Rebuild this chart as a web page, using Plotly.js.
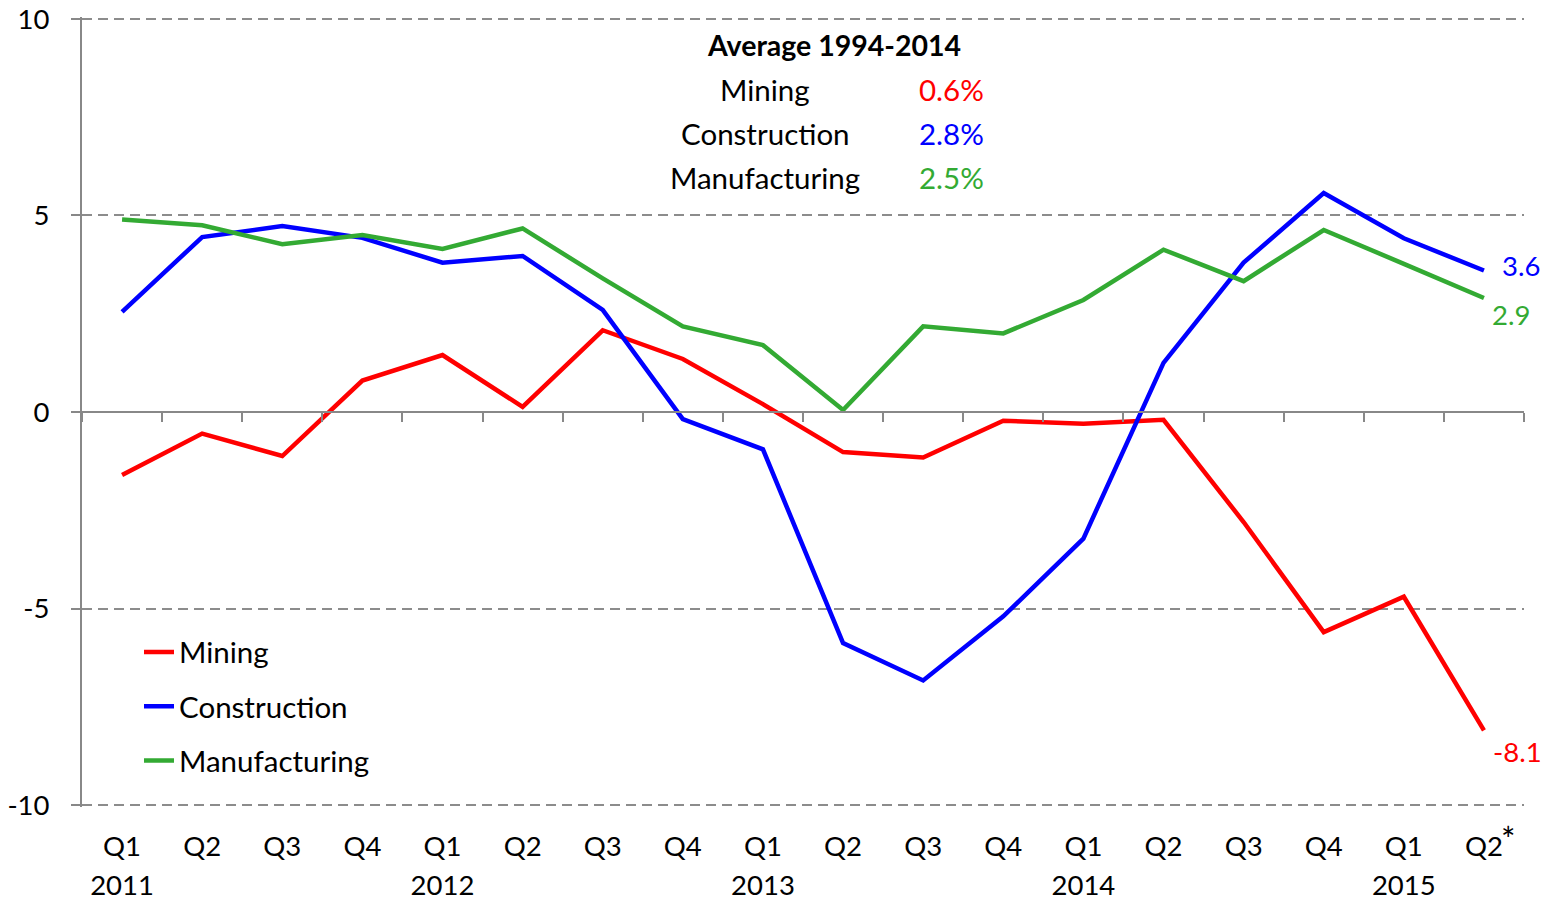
<!DOCTYPE html>
<html>
<head>
<meta charset="utf-8">
<script src="https://cdn.plot.ly/plotly-3.0.1.min.js"></script>
<style>html,body{margin:0;padding:0;background:#fff}#chart{width:1550px;height:902px}</style>
</head>
<body>
<div id="chart"></div>
<script>
const quarters = ["2011 Q1","2011 Q2","2011 Q3","2011 Q4","2012 Q1","2012 Q2","2012 Q3","2012 Q4",
  "2013 Q1","2013 Q2","2013 Q3","2013 Q4","2014 Q1","2014 Q2","2014 Q3","2014 Q4","2015 Q1","2015 Q2"];
const quarterLabels = ["Q1","Q2","Q3","Q4","Q1","Q2","Q3","Q4","Q1","Q2","Q3","Q4","Q1","Q2","Q3","Q4","Q1","Q2"];
const yearLabels = ["2011","2012","2013","2014","2015"];
const mining = [-1.6,-0.55,-1.12,0.8,1.45,0.13,2.08,1.35,0.2,-1.02,-1.16,-0.22,-0.3,-0.2,-2.8,-5.6,-4.7,-8.1];
const construction = [2.55,4.45,4.73,4.43,3.8,3.97,2.6,-0.18,-0.95,-5.88,-6.83,-5.2,-3.22,1.25,3.8,5.57,4.42,3.6];
const manufacturing = [4.9,4.75,4.27,4.5,4.15,4.67,3.4,2.18,1.7,0.05,2.18,2.0,2.85,4.13,3.33,4.63,3.77,2.9];
const seriesNames = ["Mining","Construction","Manufacturing"];
const avgLabels = ["0.6%","2.8%","2.5%"];
const colors = ["#FF0000","#0000FF","#33AA33"];
const seriesData = [mining, construction, manufacturing];
const yearTicks = quarters.filter(q=>q.endsWith("Q1"));
const FONT = "Lato, 'Open Sans', sans-serif";

const traces = seriesData.map((ys,i)=>({
  x: quarters, y: ys, type:'scatter', mode:'lines', name: seriesNames[i],
  line:{color:colors[i], width:4.5, shape:'linear'},
  legend: i===0 ? 'legend' : 'legend'+(i+1),
  hoverinfo:'skip'
}));
// carrier traces for the helper axes (zero line with boundary ticks, year labels)
['x2','x3'].forEach(ax=>traces.push({x: quarters, y: quarters.map(()=>0), xaxis:ax, type:'scatter', mode:'lines',
  line:{width:0}, opacity:0, showlegend:false, hoverinfo:'skip'}));

const annotations = [];
const PX = v => (v-82)/1442, PY = v => (805-v)/786;
annotations.push({xref:'paper', yref:'paper', x:PX(834), y:PY(47), text:'<b>Average 1994-2014</b>',
  showarrow:false, font:{family:FONT, size:28.5, color:'#000'}, xanchor:'center', yanchor:'middle'});
const rowY = [91,135,179];
seriesNames.forEach((n,i)=>{
  annotations.push({xref:'paper', yref:'paper', x:PX(765), y:PY(rowY[i]), text:n, showarrow:false,
    font:{family:FONT, size:29.5, color:'#000'}, xanchor:'center', yanchor:'middle'});
  annotations.push({xref:'paper', yref:'paper', x:PX(986), y:PY(rowY[i]), text:avgLabels[i], showarrow:false,
    font:{family:FONT, size:29.5, color:colors[i]}, xanchor:'right', yanchor:'middle'});
});
// end labels
const last = quarters.length-1;
const endOffsets = [[34,-21],[37,5],[27,-16]];
seriesData.forEach((ys,i)=>{
  annotations.push({x:quarters[last], y:ys[last], xref:'x', yref:'y', text:ys[last].toFixed(1),
    showarrow:false, xshift:endOffsets[i][0], yshift:endOffsets[i][1],
    font:{family:FONT, size:27.5, color:colors[i]}, xanchor:'center', yanchor:'middle'});
});
// asterisk on the last (preliminary) quarter
annotations.push({x:quarters[last], xref:'x', yref:'paper', y:PY(836), text:'*', showarrow:false, xshift:24,
  font:{family:FONT, size:34, color:'#000'}, xanchor:'center', yanchor:'middle'});

const legendBase = {xref:'paper', yref:'paper', x:PX(139), xanchor:'left', yanchor:'middle', bgcolor:'rgba(0,0,0,0)',
  font:{family:FONT, size:29.5, color:'#000'}, itemwidth:30};
const axisGray = '#888';
const layout = {
  width:1550, height:902,
  margin:{l:82, r:26, t:17, b:95},
  paper_bgcolor:'#fff', plot_bgcolor:'#fff',
  font:{family:FONT, color:'#000'},
  xaxis:{type:'category', tickmode:'array', tickvals:quarters, ticktext:quarterLabels, range:[-0.5,17.5],
    showgrid:false, zeroline:false, showline:false, ticks:'', ticklabelstandoff:20,
    tickfont:{family:FONT, size:27.5, color:'#000'}},
  xaxis2:{type:'category', overlaying:'x', matches:'x', anchor:'free', position:0.5, side:'bottom',
    showline:true, linecolor:axisGray, linewidth:2, ticks:'outside', ticklen:9, tickwidth:2, tickcolor:axisGray,
    tickson:'boundaries', showticklabels:false, showgrid:false, zeroline:false},
  xaxis3:{type:'category', overlaying:'x', matches:'x', anchor:'free', position:0, side:'bottom',
    tickmode:'array', tickvals:yearTicks, ticktext:yearLabels, showline:false, ticks:'', showgrid:false,
    zeroline:false, ticklabelstandoff:59, tickfont:{family:FONT, size:27.5, color:'#000'}},
  yaxis:{range:[-10.05,10.05], tickvals:[-10,-5,0,5,10], ticktext:['-10','-5','0','5','10'],
    showgrid:true, gridcolor:'#8c8c8c', gridwidth:2, griddash:'10px,6px',
    zeroline:true, zerolinecolor:axisGray, zerolinewidth:2,
    showline:true, linecolor:axisGray, linewidth:2, ticks:'outside', ticklen:9, tickwidth:2, tickcolor:axisGray,
    ticklabelstandoff:16, tickfont:{family:FONT, size:27.5, color:'#000'}},
  legend: Object.assign({}, legendBase, {y:PY(651)}),
  legend2: Object.assign({}, legendBase, {y:PY(705)}),
  legend3: Object.assign({}, legendBase, {y:PY(759)}),
  annotations: annotations,
  showlegend:true
};
Plotly.newPlot('chart', traces, layout, {displayModeBar:false, staticPlot:true});
</script>
</body>
</html>
